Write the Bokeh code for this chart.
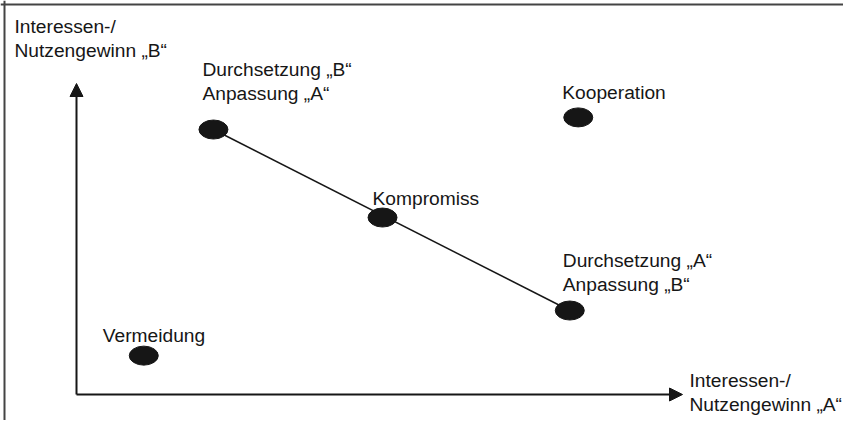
from bokeh.plotting import figure
from bokeh.models import ColumnDataSource, Range1d, Arrow, NormalHead, Span
from bokeh.core.properties import value
from bokeh.embed import file_html
from bokeh.resources import INLINE

# ---- data (conceptual gain scale 0..10 for each party) ----
strategies = ["Durchsetzung „B“\nAnpassung „A“", "Kompromiss",
              "Durchsetzung „A“\nAnpassung „B“", "Kooperation", "Vermeidung"]
gain_a = [2.26, 5.05, 8.14, 8.28, 1.11]
gain_b = [8.52, 5.69, 2.70, 8.91, 1.25]
axis_max = 10
axis_label_a = "Interessen-/\nNutzengewinn „A“"
axis_label_b = "Interessen-/\nNutzengewinn „B“"

# ---- layout (canvas pixels) ----
W, H = 843, 420
ORIGIN_X, ORIGIN_Y = 76, 394
SX, SY = 60.6, 31.1

# label offsets (screen px) relative to each point
label_dx = [-11, -10, -7, -16, -41]
label_dy = [-48, -19, -38, -25, -20]

FONT = value("Liberation Sans")
FS = "19.2px"
INK = "#161616"

p = figure(width=W, height=H, output_backend="svg", toolbar_location=None,
           x_range=Range1d((0 - ORIGIN_X) / SX, (W - ORIGIN_X) / SX),
           y_range=Range1d((ORIGIN_Y - H) / SY, (ORIGIN_Y - 0) / SY),
           min_border=0, outline_line_color=None)
p.axis.visible = False
p.grid.visible = False
p.background_fill_color = "white"
p.border_fill_color = "white"

# frame (left & top edges)
p.add_layout(Span(location=(4 - ORIGIN_X) / SX, dimension="height",
                  line_color="#444444", line_width=2))
p.add_layout(Span(location=(ORIGIN_Y - 4) / SY, dimension="width",
                  line_color="#444444", line_width=2))

# axes arrows
p.add_layout(Arrow(x_start=0, y_start=0, x_end=0, y_end=axis_max,
                   line_width=2, line_color=INK,
                   end=NormalHead(size=13, fill_color=INK, line_color=INK)))
p.add_layout(Arrow(x_start=0, y_start=0, x_end=axis_max, y_end=0,
                   line_width=2, line_color=INK,
                   end=NormalHead(size=13, fill_color=INK, line_color=INK)))

# connecting line Durchsetzung B -> Durchsetzung A
p.segment(x0=[gain_a[0]], y0=[gain_b[0]], x1=[gain_a[2]], y1=[gain_b[2]],
          line_color=INK, line_width=1.5)

src = ColumnDataSource(dict(x=gain_a, y=gain_b, label=strategies,
                            dx=label_dx, dy=label_dy))
p.ellipse(x="x", y="y", width=29, height=19, width_units="screen",
          height_units="screen", source=src, fill_color=INK, line_color=INK)

p.text(x="x", y="y", text="label", x_offset="dx", y_offset="dy", source=src,
       text_font=FONT, text_font_size=FS, text_color=INK,
       text_align="left", text_baseline="alphabetic", text_line_height=1.1)

# axis labels
p.text(x=[0], y=[axis_max], text=[axis_label_b], x_offset=-62, y_offset=-45,
       text_font=FONT, text_font_size=FS, text_color=INK,
       text_align="left", text_baseline="alphabetic", text_line_height=1.1)
p.text(x=[axis_max], y=[0], text=[axis_label_a], x_offset=7, y_offset=-2,
       text_font=FONT, text_font_size=FS, text_color=INK,
       text_align="left", text_baseline="alphabetic", text_line_height=1.1)

open("out.html", "w").write(file_html(p, INLINE))
